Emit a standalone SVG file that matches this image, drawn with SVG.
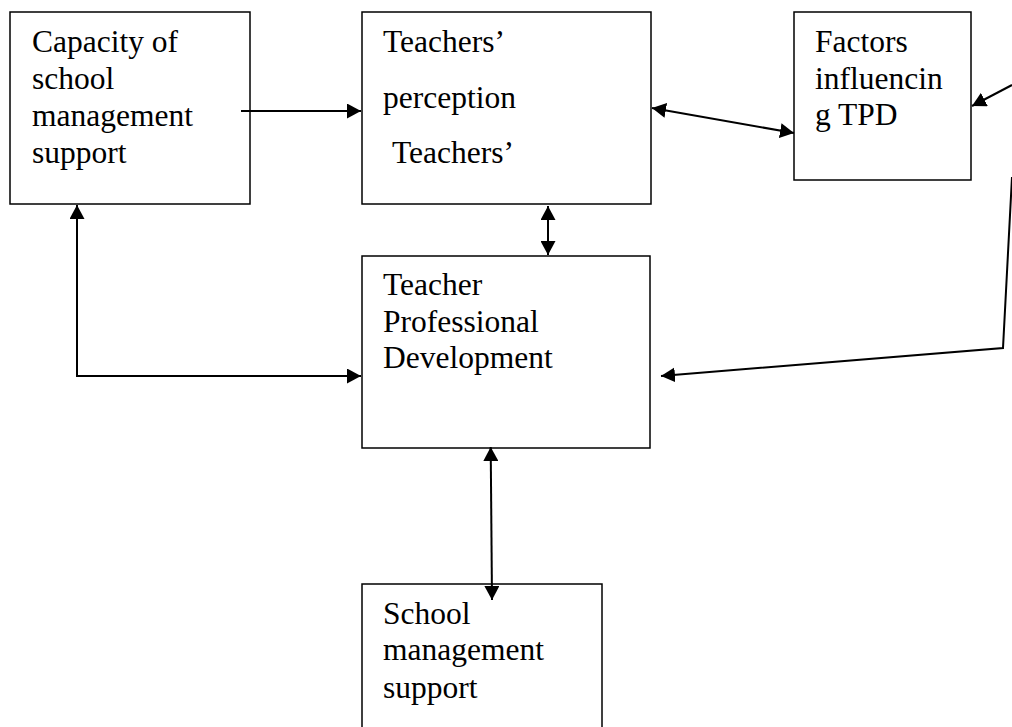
<svg xmlns="http://www.w3.org/2000/svg" width="1012" height="727" viewBox="0 0 1012 727">
<style>
.box{fill:#fff;stroke:#000;stroke-width:1.5}
.t{font-family:"Liberation Serif","Times New Roman",serif;font-size:31.5px;fill:#000}
.c{fill:none;stroke:#000;stroke-width:2}
.a{marker-end:url(#ah)}
.b{marker-start:url(#ah);marker-end:url(#ah)}
</style>
<defs>
<marker id="ah" markerUnits="userSpaceOnUse" markerWidth="14" markerHeight="15" refX="14" refY="7.5" orient="auto-start-reverse" viewBox="0 0 14 15">
<path d="M0,0 L14,7.5 L0,15 z" fill="#000"/>
</marker>
</defs>
<rect width="1012" height="727" fill="#fff"/>
<g id="capacity">
<rect class="box" x="10" y="12" width="240" height="192"/>
<text class="t" x="32" y="52">Capacity of</text>
<text class="t" x="32" y="89">school</text>
<text class="t" x="32" y="126">management</text>
<text class="t" x="32" y="163">support</text>
</g>
<g id="perception">
<rect class="box" x="362" y="12" width="289" height="192"/>
<text class="t" x="383" y="52">Teachers’</text>
<text class="t" x="383" y="108">perception</text>
<text class="t" x="392" y="163">Teachers’</text>
</g>
<g id="factors">
<rect class="box" x="794" y="12" width="177" height="168"/>
<text class="t" x="815" y="52">Factors</text>
<text class="t" x="815" y="89">influencin</text>
<text class="t" x="815" y="125">g TPD</text>
</g>
<g id="tpd">
<rect class="box" x="362" y="256" width="288" height="192"/>
<text class="t" x="383" y="295">Teacher</text>
<text class="t" x="383" y="332">Professional</text>
<text class="t" x="383" y="368">Development</text>
</g>
<g id="support">
<rect class="box" x="362" y="584" width="240" height="160"/>
<text class="t" x="383" y="624">School</text>
<text class="t" x="383" y="660">management</text>
<text class="t" x="383" y="698">support</text>
</g>
<g id="connectors">
<line class="c a" x1="241" y1="111" x2="361" y2="111"/>
<line class="c b" x1="652" y1="108" x2="794" y2="133"/>
<line class="c b" x1="548" y1="206" x2="548" y2="255"/>
<polyline class="c b" points="77,205 77,376 361,376"/>
<line class="c a" x1="1012" y1="85" x2="972" y2="106"/>
<polyline class="c a" points="1012,177 1003,348 661,376"/>
<line class="c b" x1="490.7" y1="447" x2="492" y2="600"/>
</g>
</svg>
